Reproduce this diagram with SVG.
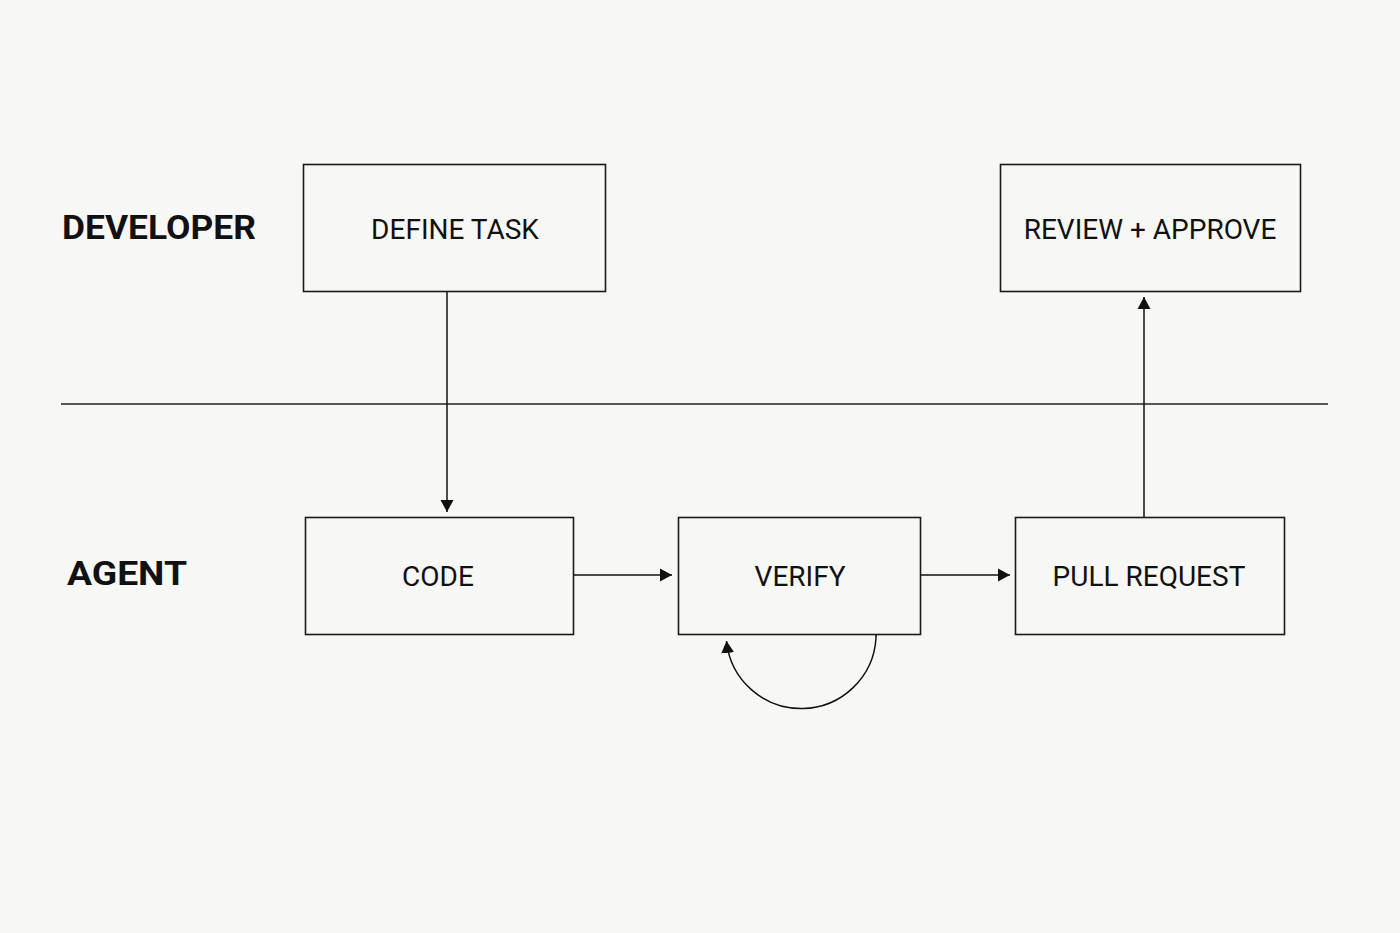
<svg xmlns="http://www.w3.org/2000/svg" width="1400" height="933" viewBox="0 0 1400 933">
<defs>
<style>
.bg{fill:#f7f7f5}
.box{fill:none;stroke:#1a1a1a;stroke-width:1.6}
.lbl{font-family:Roboto,"Liberation Sans",sans-serif;font-size:28px;fill:#111;text-anchor:middle}
.lane{font-family:Roboto,"Liberation Sans",sans-serif;font-size:33px;font-weight:bold;fill:#111}
.conn{fill:none;stroke:#111;stroke-width:1.5}
</style>
<marker id="ah" markerWidth="14" markerHeight="14" refX="12" refY="7" orient="auto" markerUnits="userSpaceOnUse">
<path d="M0,0.5 L12,7 L0,13.5 Z" fill="#111"/>
</marker>
</defs>
<rect class="bg" x="0" y="0" width="1400" height="933"/>
<line x1="61" y1="404" x2="1328" y2="404" stroke="#222" stroke-width="1.5"/>
<text class="lane" x="62" y="239" textLength="194" lengthAdjust="spacingAndGlyphs">DEVELOPER</text>
<text class="lane" x="67" y="585" textLength="120" lengthAdjust="spacingAndGlyphs">AGENT</text>
<g id="define-task"><rect class="box" x="303.5" y="164.5" width="302" height="127"/><text class="lbl" x="455" y="239">DEFINE TASK</text></g>
<g id="review-approve"><rect class="box" x="1000.5" y="164.5" width="300" height="127"/><text class="lbl" x="1150" y="239">REVIEW + APPROVE</text></g>
<g id="code"><rect class="box" x="305.5" y="517.5" width="268" height="117"/><text class="lbl" x="438" y="586">CODE</text></g>
<g id="verify"><rect class="box" x="678.5" y="517.5" width="242" height="117"/><text class="lbl" x="800" y="586">VERIFY</text></g>
<g id="pull-request"><rect class="box" x="1015.5" y="517.5" width="269" height="117"/><text class="lbl" x="1149" y="586">PULL REQUEST</text></g>
<g id="connectors">
<line class="conn" x1="447" y1="292" x2="447" y2="512" marker-end="url(#ah)"/>
<line class="conn" x1="574" y1="575" x2="672" y2="575" marker-end="url(#ah)"/>
<line class="conn" x1="921" y1="575" x2="1010" y2="575" marker-end="url(#ah)"/>
<line class="conn" x1="1144" y1="517" x2="1144" y2="297" marker-end="url(#ah)"/>
<path class="conn" d="M876,634 L876,638 A75,75 0 0 1 726.5,641" marker-end="url(#ah)"/>
</g>
</svg>
